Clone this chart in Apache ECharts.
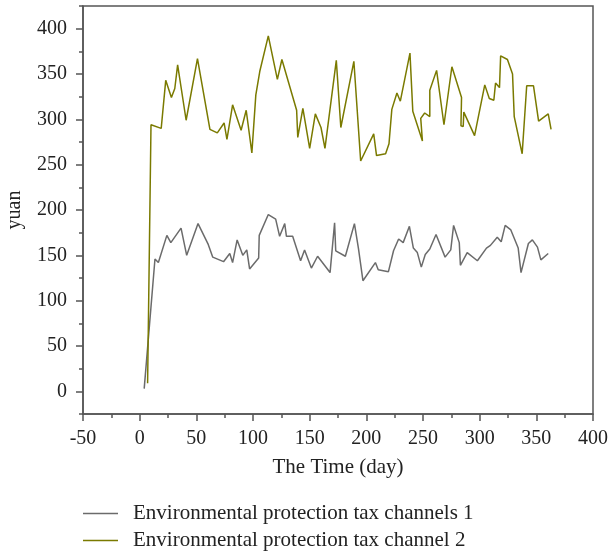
<!DOCTYPE html>
<html>
<head>
<meta charset="utf-8">
<script src="https://cdn.jsdelivr.net/npm/echarts@6/dist/echarts.min.js"></script>
<style>html,body{margin:0;padding:0;background:#fff}#c{width:608px;height:556px}</style>
</head>
<body>
<div id="c"></div>
<script>
var seriesNames = ['Environmental protection tax channels 1', 'Environmental protection tax channel 2'];

var ch1X = [4,13.5,16.5,24,27.5,36.5,41.5,51.5,60.5,64.5,74,79.5,82,86,91,94.5,97,105,105.5,113.5,120,123.5,128,129.5,135,142,145.5,151.5,157,168,172,173,181.5,189.5,193,197,208,210.5,219.5,224,228.5,232.5,238,241.5,245,248.5,252,256,261.5,269.5,274.5,277,282,283,289,298,306,309.5,315.5,319,322.5,327.5,334,336.5,343,346.5,351,354,360.5];
var ch1Y = [3,146,142,172,164,180,150,185,162,148,143,152,142,167,150,156,135,147,172,195,190,171,185,171,171,144,156,136,149,131,186,155,149,185,158,122,142,134,132,155,168,164,182,158,153,137,151,157,173,148,156,183,164,139,153,144,158,161,170,165,183,178,158,131,163,167,159,145,152];

var ch2X = [7,10,19,23,28,31,33.5,41,51,62,68.5,74.5,77,82,89.5,94,99,102.5,106,113.5,121.5,125.5,138.5,139.5,144,150,155,160,163.5,173.5,177.5,189,195,206.5,209,217,220,222.5,227,230,238.5,241,249.5,248,251.5,256,256,262,268.5,275.5,284,283.5,285.5,286,295.5,304.5,308.5,312.5,314,317.5,318.5,324.5,329,330.5,337.5,341.5,347.5,352,360.5,363];
var ch2Y = [9,294,290,343,324,334,360,299,367,289,285,296,278,316,288,310,263,327,353,392,344,366,310,280,312,268,306,291,268,365,291,364,254,284,260,262,273,311,329,320,373,309,276,301,307,303,332,354,294,358,324,293,292,308,282,338,323,321,340,335,370,366,350,303,262,337,337,298,306,289];

var yLabelTicks = [0,50,100,150,200,250,300,350,400];
var yMinorTicks = [-25,25,75,125,175,225,275,325,375,425];

function pairs(xs, ys){ var out=[]; for(var i=0;i<xs.length;i++){ out.push([xs[i], ys[i]]); } return out; }

var FONT = 'Liberation Serif';
var TXT = '#222';
var AX = '#555';

function tickAxis(values, len){
  return {
    type: 'value', min: -25, max: 425, position: 'left',
    axisLine: {show: false, onZero: false},
    axisTick: {show: true, length: len, customValues: values, lineStyle: {color: AX, width: 1.5}},
    axisLabel: {show: false, customValues: values},
    splitLine: {show: false}
  };
}

var chart = echarts.init(document.getElementById('c'), null, {renderer:'canvas'});
chart.setOption({
  animation: false,
  backgroundColor: '#fff',
  textStyle: {fontFamily: FONT},
  grid: {left: 83, right: 15, top: 6, bottom: 142, show: true, borderColor: AX, borderWidth: 1.5, containLabel: false, outerBoundsMode: 'none'},
  legend: {
    orient: 'vertical', left: 83, top: 503, padding: 0, itemWidth: 35, itemHeight: 1.5, itemGap: 6,
    icon: 'rect',
    textStyle: {fontFamily: FONT, fontSize: 21, color: TXT, padding: [0,0,0,10]},
    data: seriesNames
  },
  xAxis: {
    type: 'value', min: -50, max: 400, interval: 50,
    name: 'The Time (day)', nameLocation: 'middle', nameGap: 43,
    nameTextStyle: {fontFamily: FONT, fontSize: 21, color: TXT},
    axisLine: {show: true, onZero: false, lineStyle: {color: AX, width: 1.5}},
    axisTick: {show: true, inside: false, length: 7, lineStyle: {color: AX, width: 1.5}},
    minorTick: {show: true, splitNumber: 2, length: 4, lineStyle: {color: AX, width: 1.5}},
    axisLabel: {fontFamily: FONT, fontSize: 20, color: TXT, margin: 15},
    splitLine: {show: false}
  },
  yAxis: [{
    type: 'value', min: -25, max: 425,
    name: 'yuan', nameLocation: 'middle', nameGap: 58, nameRotate: 90,
    nameTextStyle: {fontFamily: FONT, fontSize: 20, color: TXT},
    axisLine: {show: true, onZero: false, lineStyle: {color: AX, width: 1.5}},
    axisTick: {show: false},
    axisLabel: {fontFamily: FONT, fontSize: 20, color: TXT, margin: 16, customValues: yLabelTicks},
    splitLine: {show: false}
  }, tickAxis(yLabelTicks, 7), tickAxis(yMinorTicks, 4)],
  series: [{
    name: seriesNames[0], type: 'line', symbol: 'none', yAxisIndex: 0,
    data: pairs(ch1X, ch1Y),
    lineStyle: {color: '#6b6b6b', width: 1.5}, itemStyle: {color: '#6b6b6b'}
  }, {
    name: seriesNames[1], type: 'line', symbol: 'none', yAxisIndex: 0,
    data: pairs(ch2X, ch2Y),
    lineStyle: {color: '#7a7a00', width: 1.5}, itemStyle: {color: '#7a7a00'}
  }]
});
</script>
</body>
</html>
